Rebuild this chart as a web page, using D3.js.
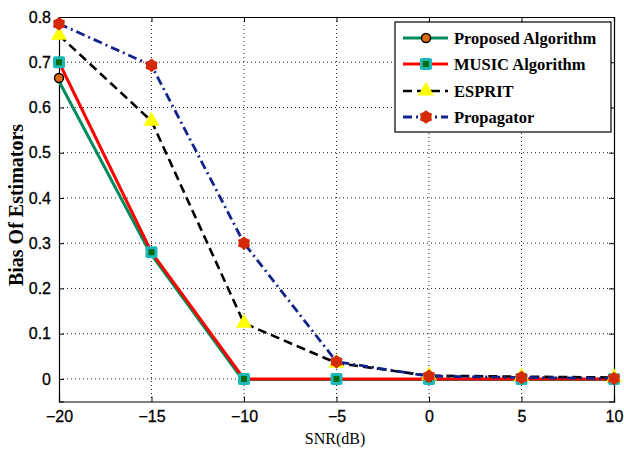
<!DOCTYPE html>
<html><head><meta charset="utf-8">
<script src="https://cdn.jsdelivr.net/npm/d3@7"></script>
<style>body{margin:0;background:#fff}svg{display:block}</style>
</head><body>
<svg id="c" width="624" height="452"></svg>
<script>
const snr = [-20, -15, -10, -5, 0, 5, 10];
const proposed = [0.665, 0.28, 0.0, 0.0, 0.0, 0.0, 0.0];
const music = [0.70, 0.28, 0.0, 0.0, 0.0, 0.0, 0.0];
const esprit = [0.76, 0.57, 0.123, 0.035, 0.007, 0.005, 0.003];
const propagator = [0.785, 0.693, 0.30, 0.038, 0.006, 0.003, 0.001];
const xTicks = [-20, -15, -10, -5, 0, 5, 10];
const yTicks = [0, 0.1, 0.2, 0.3, 0.4, 0.5, 0.6, 0.7, 0.8];
const seriesNames = ["Proposed Algorithm", "MUSIC Algorithm", "ESPRIT", "Propagator"];

const svg = d3.select("#c");
const L = 59, R = 614, T = 17, B = 401.5;
const x = d3.scaleLinear().domain([-20, 10]).range([L, R]);
const y = d3.scaleLinear().domain([-0.05, 0.8]).range([B, T]);

// grid
const g = svg.append("g");
g.selectAll(".gx").data(xTicks.slice(1, -1)).enter().append("line")
  .attr("x1", d => x(d)).attr("x2", d => x(d)).attr("y1", T).attr("y2", B)
  .attr("stroke", "#222").attr("stroke-width", 1).attr("stroke-dasharray", "1,3");
g.selectAll(".gy").data(yTicks.slice(0, -1)).enter().append("line")
  .attr("x1", L).attr("x2", R).attr("y1", d => y(d)).attr("y2", d => y(d))
  .attr("stroke", "#222").attr("stroke-width", 1).attr("stroke-dasharray", "1,3");

// axes
const ax = svg.append("g").attr("transform", `translate(0,${B})`)
  .call(d3.axisBottom(x).tickValues(xTicks).tickSize(-5).tickPadding(9).tickFormat(d3.format("d")));
const ay = svg.append("g").attr("transform", `translate(${L},0)`)
  .call(d3.axisLeft(y).tickValues(yTicks).tickSize(-5).tickPadding(8).tickFormat(d => d === 0 ? "0" : d3.format(".1f")(d)));
const axTop = svg.append("g").attr("transform", `translate(0,${T})`)
  .call(d3.axisTop(x).tickValues(xTicks).tickSize(-5).tickFormat(""));
const ayR = svg.append("g").attr("transform", `translate(${R},0)`)
  .call(d3.axisRight(y).tickValues(yTicks).tickSize(-5).tickFormat(""));
[ax, ay, axTop, ayR].forEach(a => {
  a.select(".domain").attr("stroke", "#000").attr("stroke-width", 1.2);
  a.selectAll(".tick line").attr("stroke", "#000");
  a.selectAll("text").attr("font-family", "Liberation Sans, Arial, sans-serif")
    .attr("font-size", 16).attr("fill", "#000").attr("stroke", "#000").attr("stroke-width", 0.3);
});

// lines
const line = vals => d3.line().x((d, i) => x(snr[i])).y(d => y(d))(vals);
const pl = svg.append("g");
pl.append("path").attr("d", line(proposed)).attr("fill", "none")
  .attr("stroke", "#008c5a").attr("stroke-width", 3).attr("transform", "translate(-1.5,0.5)");
pl.append("path").attr("d", line(music)).attr("fill", "none")
  .attr("stroke", "#ff0000").attr("stroke-width", 3);
pl.append("path").attr("d", line(esprit)).attr("fill", "none")
  .attr("stroke", "#000").attr("stroke-width", 2.6).attr("stroke-dasharray", "9,5");
pl.append("path").attr("d", line(propagator)).attr("fill", "none")
  .attr("stroke", "#14238a").attr("stroke-width", 2.8).attr("stroke-dasharray", "9,4,2,4");

// markers
function hexagram(ro, ri) {
  const pts = [];
  for (let k = 0; k < 12; k++) {
    const a = Math.PI / 2 + k * Math.PI / 6;
    const r = k % 2 === 0 ? ro : ri;
    pts.push([r * Math.cos(a), -r * Math.sin(a)]);
  }
  return "M" + pts.map(p => p.join(",")).join("L") + "Z";
}
function mProposed(sel) {
  sel.append("circle").attr("r", 4.5).attr("fill", "#e06a10").attr("stroke", "#000").attr("stroke-width", 1.5);
}
function mMusic(sel) {
  sel.append("rect").attr("x", -6).attr("y", -6).attr("width", 12).attr("height", 12).attr("rx", 2)
    .attr("fill", "#1ab8b8");
  sel.append("rect").attr("x", -3).attr("y", -3).attr("width", 6).attr("height", 6).attr("fill", "#0a6a10");
}
function mEsprit(sel) {
  sel.append("path").attr("d", d3.symbol().type(d3.symbolTriangle).size(110)()).attr("fill", "#ffff00");
}
function mProp(sel) {
  sel.append("path").attr("d", hexagram(6.8, 5.4)).attr("fill", "#d42a08");
}
const markers = [[proposed, mProposed], [music, mMusic], [esprit, mEsprit], [propagator, mProp]];
markers.forEach(([vals, fn]) => {
  const gg = svg.append("g").selectAll("g").data(vals).enter().append("g")
    .attr("transform", (d, i) => `translate(${x(snr[i])},${y(d)})`);
  fn(gg);
});

// legend
const lg = svg.append("g");
lg.append("rect").attr("x", 395).attr("y", 22).attr("width", 216).attr("height", 110)
  .attr("fill", "#fff").attr("stroke", "#000").attr("stroke-width", 1.2);
const ly = [38, 64, 91, 117];
const lStyles = [
  {c: "#008c5a", w: 3, da: null, m: mProposed},
  {c: "#ff0000", w: 3, da: null, m: mMusic},
  {c: "#000", w: 2.6, da: "9,5", m: mEsprit},
  {c: "#14238a", w: 2.8, da: "9,4,2,4", m: mProp}
];
seriesNames.forEach((n, i) => {
  const s = lStyles[i];
  lg.append("line").attr("x1", 403).attr("x2", 448).attr("y1", ly[i]).attr("y2", ly[i])
    .attr("stroke", s.c).attr("stroke-width", s.w).attr("stroke-dasharray", s.da);
  s.m(lg.append("g").attr("transform", `translate(426,${ly[i]})`));
  lg.append("text").attr("x", 454).attr("y", ly[i] + 6).text(n)
    .attr("font-family", "Liberation Serif, Times New Roman, serif").attr("font-weight", "bold")
    .attr("font-size", 16.5).attr("fill", "#000");
});

// axis labels
svg.append("text").attr("x", 335).attr("y", 444).attr("text-anchor", "middle").text("SNR(dB)")
  .attr("font-family", "Liberation Serif, Times New Roman, serif").attr("font-size", 16).attr("fill", "#000");
svg.append("text").attr("transform", "translate(23,205) rotate(-90)").attr("text-anchor", "middle")
  .text("Bias Of Estimators")
  .attr("font-family", "Liberation Serif, Times New Roman, serif").attr("font-weight", "bold")
  .attr("font-size", 20).attr("fill", "#000");
</script>
</body></html>
